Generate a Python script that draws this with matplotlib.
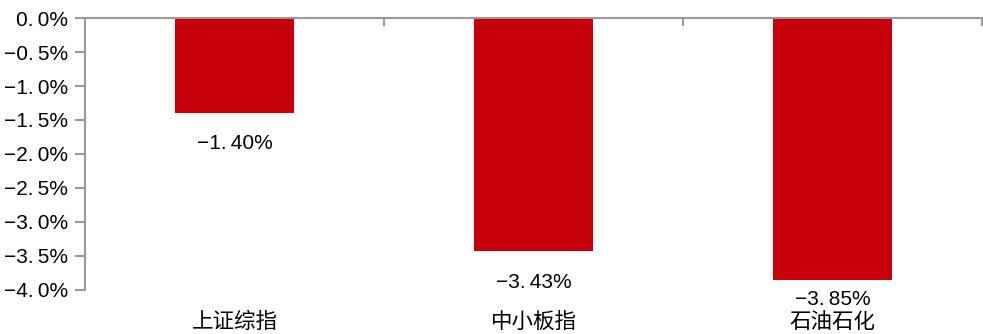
import matplotlib
matplotlib.use('Agg')
import matplotlib.pyplot as plt
from matplotlib.ticker import FuncFormatter

plt.rcParams['font.family'] = ['Liberation Sans', 'Noto Sans CJK SC', 'DejaVu Sans']
plt.rcParams['axes.unicode_minus'] = True

# Index returns (%)
categories = ['上证综指', '中小板指', '石油石化']
returns = [-1.40, -3.43, -3.85]
label_offsets = [-30, -31, -20]  # px below the bar end for value labels

BAR_COLOR = '#C8000B'
AXIS_COLOR = '#999999'


def pct_fmt(v, _pos=None):
    s = '%.1f' % v
    if s == '-0.0':
        s = '0.0'
    return s.replace('-', '\u2212').replace('.', '.\u2009') + '%'


fig = plt.figure(figsize=(9.83, 3.34), dpi=100)
ax = fig.add_axes([0.0865, 0.132, 0.9125, 0.814])

x = list(range(len(categories)))
ax.bar(x, returns, width=0.4, color=BAR_COLOR, zorder=2)

for xi, v, off in zip(x, returns, label_offsets):
    txt = ('%.2f' % v).replace('-', '\u2212').replace('.', '.\u2009') + '%'
    ax.annotate(txt, xy=(xi, v), xytext=(0, off * 0.72), textcoords='offset points',
                ha='center', va='center', fontsize=15)

ax.set_xlim(-0.5, len(categories) - 0.5)
ax.set_ylim(-4.0, 0.0)
ax.set_yticks([-4.0, -3.5, -3.0, -2.5, -2.0, -1.5, -1.0, -0.5, 0.0])
ax.yaxis.set_major_formatter(FuncFormatter(pct_fmt))

# category boundaries as ticks on the top axis line, names below the plot
ax.set_xticks([i + 0.5 for i in x[:-1]] + [len(categories) - 0.5])
ax.set_xticks(x, minor=True)
ax.set_xticklabels(categories, minor=True, family=['Noto Sans CJK SC'])
ax.tick_params(axis='x', which='major', top=True, bottom=False, labeltop=False,
               labelbottom=False, direction='in', length=6, color=AXIS_COLOR, width=1.5)
ax.tick_params(axis='x', which='minor', top=False, bottom=False, length=0,
               labelbottom=True, labelsize=15.5, pad=15)
ax.tick_params(axis='y', direction='out', length=7, color=AXIS_COLOR, width=1.5,
               labelsize=15, pad=5)

for side in ['right', 'bottom']:
    ax.spines[side].set_visible(False)
for side in ['left', 'top']:
    ax.spines[side].set_color(AXIS_COLOR)
    ax.spines[side].set_linewidth(1.5)

fig.savefig('out.png', dpi=100)
